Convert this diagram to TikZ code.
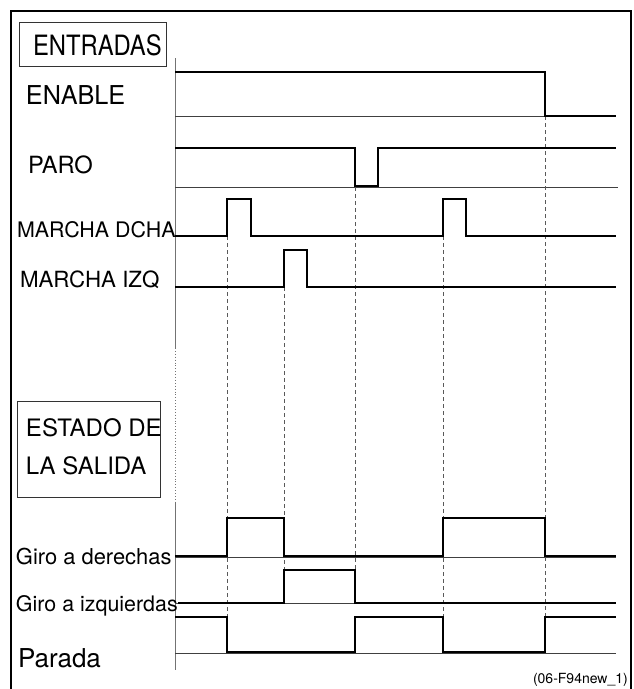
\documentclass[tikz,border=0pt]{standalone}
\usepackage{fontspec}
\setmainfont{TeX Gyre Heros}
\begin{document}
\begin{tikzpicture}[x=1pt,y=-1pt,
  lab/.style={inner sep=0pt, outer sep=0pt, anchor=base west},
  sig/.style={line width=2.9pt, line join=miter, line cap=butt},
  base/.style={line width=0.6pt, black!75},
  guide/.style={line width=0.7pt, black!65, dash pattern=on 4pt off 3pt},
  axis/.style={line width=0.9pt, black!55},
  frame/.style={line width=1.3pt},
  titlebox/.style={line width=0.8pt, black!80}]
\useasboundingbox (0,0) rectangle (633,689);
% outer frame
\draw[frame] (11,689) -- (11,11) -- (631,11) -- (631,689);
% title boxes
\draw[titlebox] (19,22) rectangle (166,66);
\draw[titlebox] (17,401) rectangle (160,497);
% time axis
\draw[axis] (175,58) -- (175,348);
\draw[axis, dotted] (175,348) -- (175,502);
\draw[axis] (175,502) -- (175,670);
% labels
\node[lab] (ent) at (33,55) {\fontsize{28}{30}\selectfont\addfontfeature{FakeStretch=0.85}ENTRADAS};
\node[lab] (ena) at (26,104) {\fontsize{26}{30}\selectfont\addfontfeature{FakeStretch=0.97}ENABLE};
\node[lab] (par) at (28,173) {\fontsize{23.7}{28}\selectfont PARO};
\node[lab] (mdc) at (17,237) {\fontsize{21.4}{24}\selectfont MARCHA DCHA};
\node[lab] (miz) at (20,287) {\fontsize{22.3}{26}\selectfont MARCHA IZQ};
\node[lab] (est1) at (26,436) {\fontsize{24}{28}\selectfont ESTADO DE};
\node[lab] (est2) at (26,474) {\fontsize{24}{28}\selectfont LA SALIDA};
\node[lab] (gder) at (16,564) {\fontsize{21.9}{26}\selectfont Giro a derechas};
\node[lab] (gizq) at (16,611) {\fontsize{21.4}{26}\selectfont Giro a izquierdas};
\node[lab] (pda) at (18,667) {\fontsize{26}{30}\selectfont Parada};
\node[inner sep=0pt, anchor=base east] (cap) at (628,683) {\fontsize{14}{16}\selectfont (06-F94new\_1)};
% thin reference lines
\draw[base] (175,116) -- (616,116);
\draw[base] (175,187) -- (618,187);
\draw[base] (175,557) -- (616,557);
\draw[base] (175,603) -- (616,603);
\draw[base] (175,653) -- (616,653);
% guides
\draw[guide] (227,236) -- (227,617);
\draw[guide] (284,287) -- (284,570);
\draw[guide] (355,187) -- (355,570);
\draw[guide] (443,236) -- (443,617);
\draw[guide] (545,116) -- (545,617);
% input signals
\draw[sig] (175,72) -- (545,72) -- (545,116) -- (616,116);
\draw[sig] (175,148) -- (355,148) -- (355,186) -- (378,186) -- (378,148) -- (616,148);
\draw[sig] (175,236) -- (227,236) -- (227,199) -- (251,199) -- (251,236) -- (443,236) -- (443,199) -- (466,199) -- (466,236) -- (616,236);
\draw[sig] (175,287) -- (284,287) -- (284,250) -- (307,250) -- (307,287) -- (616,287);
% output signals
\draw[sig] (175,556) -- (227,556) -- (227,518) -- (284,518) -- (284,556) -- (443,556) -- (443,518) -- (545,518) -- (545,556) -- (616,556);
\draw[sig] (178,603) -- (284,603) -- (284,570) -- (355,570) -- (355,603) -- (616,603);
\draw[sig] (175,617) -- (227,617) -- (227,652) -- (355,652) -- (355,617) -- (443,617) -- (443,652) -- (545,652) -- (545,617) -- (616,617);
\end{tikzpicture}
\end{document}
